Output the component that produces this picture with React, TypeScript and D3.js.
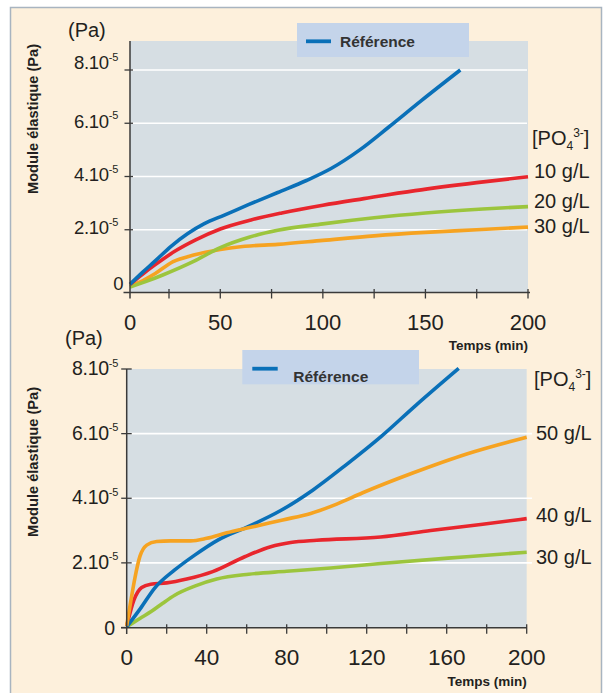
import React from 'react';
import * as d3 from 'd3';

const FONT = '"Liberation Sans", Arial, Helvetica, sans-serif';

// ---------- shared ----------
const yTickValues = [0, 2, 4, 6, 8];
const yTickMantissa = ['0', '2.10', '4.10', '6.10', '8.10'];
const yTickExponent = '-5';
const legendLabel = 'Référence';
const yAxisTitle = 'Module élastique (Pa)';
const unitLabel = '(Pa)';
const xAxisTitle = 'Temps (min)';

// ---------- top chart ----------
const topXTicks = [0, 50, 100, 150, 200];
const topXMinor = [25, 50, 75, 100, 125, 150, 175, 200];
const topRef: [number, number][] = [
  [0, -0.05], [8, 0.4], [16, 0.82], [26, 1.38], [34, 1.85], [42, 2.22], [52, 2.55], [64, 2.95],
  [78, 3.4], [92, 3.85], [104, 4.3], [118, 5.0], [132, 5.85], [148, 6.85], [167, 8.0],
];
const top10: [number, number][] = [
  [0, -0.05], [8, 0.33], [16, 0.68], [28, 1.2], [38, 1.62], [50, 2.03], [65, 2.37], [80, 2.63],
  [100, 2.92], [120, 3.17], [145, 3.47], [175, 3.77], [200, 3.99],
];
const top20: [number, number][] = [
  [0, -0.15], [10, 0.05], [21, 0.3], [37, 0.81], [50, 1.33], [64, 1.72], [78, 1.98], [100, 2.22],
  [125, 2.45], [150, 2.63], [178, 2.78], [200, 2.87],
];
const top30: [number, number][] = [
  [0, -0.12], [8, 0.08], [16, 0.35], [27, 0.8], [37, 1.05], [50, 1.26], [62, 1.38], [78, 1.45],
  [100, 1.6], [125, 1.77], [150, 1.9], [175, 2.0], [200, 2.1],
];
const topConc = ['10 g/L', '20 g/L', '30 g/L'];

// ---------- bottom chart ----------
const botXTicks = [0, 40, 80, 120, 160, 200];
const botXMinor = [20, 40, 60, 80, 100, 120, 140, 160, 180, 200];
const botRef: [number, number][] = [
  [0, 0.02], [7, 0.6], [14, 1.22], [24, 1.78], [34, 2.24], [46, 2.72], [61, 3.13], [77, 3.62],
  [93, 4.25], [110, 5.05], [127, 5.9], [145, 6.9], [166, 8.02],
];
const bot50: [number, number][] = [
  [0, 0.05], [2, 0.8], [4, 1.5], [6.6, 2.2], [10, 2.55], [15, 2.66], [22, 2.68], [32, 2.68],
  [40, 2.76], [50, 2.93], [62, 3.1], [78, 3.33], [92, 3.53], [105, 3.82], [118, 4.17],
  [143, 4.78], [170, 5.37], [200, 5.89],
];
const bot40: [number, number][] = [
  [0, 0.05], [3.6, 0.85], [7.5, 1.24], [12, 1.34], [20, 1.38], [30, 1.5], [43, 1.73], [59, 2.19],
  [72, 2.5], [82, 2.63], [95, 2.7], [127, 2.8], [152, 3.0], [177, 3.19], [200, 3.37],
];
const bot30: [number, number][] = [
  [0, 0.02], [6.6, 0.28], [12.4, 0.5], [18, 0.75], [24, 1.0], [34, 1.28], [45, 1.5], [61, 1.65],
  [80, 1.74], [102, 1.84], [127, 1.98], [170, 2.19], [200, 2.33],
];
const botConc = ['50 g/L', '40 g/L', '30 g/L'];

const C_BLUE = '#0a70b8';
const C_RED = '#e8262d';
const C_GREEN = '#9cc53d';
const C_ORANGE = '#f6a321';
const TXT = '#231f20';
const AX = '#3a3a3a';

type Series = { data: [number, number][]; color: string };

interface PanelProps {
  x: d3.ScaleLinear<number, number>;
  y: d3.ScaleLinear<number, number>;
  plotTop: number;
  axisY: number;
  plotRight: number;
  gridRight: number;
  gridValues: number[];
  xTicks: number[];
  xMinor: number[];
  xLabelBaseline: number;
  yTickEnd: number;
  yLabelRight: number;
  yZeroRight: number;
  yZeroBaseline: number;
  yLabelOffset: (v: number) => number;
  tickFont: number;
  xTickFont: number;
  series: Series[];
  legend: { x: number; y: number; w: number; h: number; lx1: number; lx2: number; ly: number; tx: number; ty: number };
  unit: { x: number; y: number };
  titleBaseline: number;
  yTitle: { x: number; cy: number };
  conc: { labels: string[]; series: Series[]; offsets: number[]; x: number };
  poY: number;
  xAxisStart: number;
  xAxisEnd: number;
  yAxisBottom: number;
}

function Panel(p: PanelProps) {
  const line = d3
    .line<[number, number]>()
    .x((d) => p.x(d[0]))
    .y((d) => p.y(d[1]))
    .curve(d3.curveMonotoneX);
  const x0 = p.x(0);
  return (
    <g>
      <rect x={x0} y={p.plotTop} width={p.plotRight - x0} height={p.axisY - p.plotTop} fill="#d6dee3" />
      {p.gridValues.map((v) => (
        <line key={'g' + v} x1={x0} x2={p.gridRight} y1={p.y(v)} y2={p.y(v)} stroke="#ffffff" strokeWidth={1.6} />
      ))}
      <rect x={p.legend.x} y={p.legend.y} width={p.legend.w} height={p.legend.h} fill="#c4d4ea" />
      <line x1={p.legend.lx1} x2={p.legend.lx2} y1={p.legend.ly} y2={p.legend.ly} stroke={C_BLUE} strokeWidth={3.8} />
      <text x={p.legend.tx} y={p.legend.ty} fontFamily={FONT} fontWeight="bold" fontSize={15.5} fill="#333">
        {legendLabel}
      </text>
      {p.series.map((s, i) => (
        <path key={'s' + i} d={line(s.data) || ''} fill="none" stroke={s.color} strokeWidth={3.6} strokeLinejoin="round" strokeLinecap="butt" />
      ))}
      <line x1={p.xAxisStart} x2={p.xAxisEnd} y1={p.axisY} y2={p.axisY} stroke={AX} strokeWidth={1.5} />
      <line x1={x0} x2={x0} y1={p.plotTop} y2={p.yAxisBottom} stroke={AX} strokeWidth={1.5} />
      {p.xMinor.map((t) => (
        <line key={'xm' + t} x1={p.x(t)} x2={p.x(t)} y1={p.axisY - 3.5} y2={p.axisY + 6} stroke={AX} strokeWidth={1.3} />
      ))}
      {p.gridValues.map((v) => (
        <line key={'yt' + v} x1={x0 - 5.5} x2={x0 + p.yTickEnd} y1={p.y(v)} y2={p.y(v)} stroke={AX} strokeWidth={1.3} />
      ))}
      {p.xTicks.map((t) => (
        <text key={'xl' + t} x={p.x(t)} y={p.xLabelBaseline} textAnchor="middle" fontFamily={FONT} fontSize={p.xTickFont} fill={TXT}>
          {t}
        </text>
      ))}
      {yTickValues.map((v, i) =>
        v === 0 ? (
          <text key={'yl' + v} x={p.yZeroRight} y={p.yZeroBaseline} textAnchor="end" fontFamily={FONT} fontSize={p.tickFont} fill={TXT}>
            {yTickMantissa[i]}
          </text>
        ) : (
          <text key={'yl' + v} x={p.yLabelRight} y={p.y(v) + p.yLabelOffset(v)} textAnchor="end" fontFamily={FONT} fontSize={p.tickFont} fill={TXT} letterSpacing={-0.3}>
            {yTickMantissa[i]}
            <tspan fontSize={11} dy={-8.5}>{yTickExponent}</tspan>
          </text>
        )
      )}
      <text x={p.unit.x} y={p.unit.y} fontFamily={FONT} fontSize={20} fill={TXT}>
        {unitLabel}
      </text>
      <text x={p.plotRight} y={p.titleBaseline} textAnchor="end" fontFamily={FONT} fontWeight="bold" fontSize={13.5} fill={TXT}>
        {xAxisTitle}
      </text>
      <text
        transform={`translate(${p.yTitle.x},${p.yTitle.cy}) rotate(-90)`}
        textAnchor="middle"
        fontFamily={FONT}
        fontWeight="bold"
        fontSize={14.6}
        fill={TXT}
      >
        {yAxisTitle}
      </text>
      <text x={p.conc.x - 2} y={p.poY} fontFamily={FONT} fontSize={20} fill={TXT}>
        [PO
        <tspan fontSize={12} dy={5}>4</tspan>
        <tspan fontSize={12} dy={-13}>3-</tspan>
        <tspan dy={8}>]</tspan>
      </text>
      {p.conc.labels.map((lab, i) => {
        const d = p.conc.series[i].data;
        const last = d[d.length - 1];
        return (
          <text key={'c' + i} x={p.conc.x} y={p.y(last[1]) + p.conc.offsets[i]} fontFamily={FONT} fontSize={20} fill={TXT}>
            {lab}
          </text>
        );
      })}
    </g>
  );
}

export default function App() {
  const xTop = d3.scaleLinear().domain([0, 25, 200]).range([130, 169, 528]);
  const yTop = d3.scaleLinear().domain([0, 8]).range([283, 70]);
  const xBot = d3.scaleLinear().domain([0, 200]).range([126.7, 526.7]);
  const yBot = d3.scaleLinear().domain([0, 8]).range([627.5, 369]);

  const topSeries: Series[] = [
    { data: top30, color: C_ORANGE },
    { data: top20, color: C_GREEN },
    { data: top10, color: C_RED },
    { data: topRef, color: C_BLUE },
  ];
  const botSeries: Series[] = [
    { data: bot30, color: C_GREEN },
    { data: bot40, color: C_RED },
    { data: botRef, color: C_BLUE },
    { data: bot50, color: C_ORANGE },
  ];

  return (
    <svg width={606} height={693} style={{ position: 'absolute', left: 0, top: 0 }}>
      <rect x={0} y={0} width={606} height={693} fill="#ffffff" />
      <rect x={10.5} y={7.5} width={591} height={690} fill="#fdf0dc" stroke="#a8b4c0" strokeWidth={1.5} />
      <Panel
        x={xTop}
        y={yTop}
        plotTop={41}
        axisY={292.5}
        plotRight={528}
        gridRight={527}
        gridValues={[2, 4, 6, 8]}
        xTicks={topXTicks}
        xMinor={topXMinor}
        xLabelBaseline={329.5}
        yTickEnd={3}
        yLabelRight={118}
        yZeroRight={123.5}
        yZeroBaseline={290}
        yLabelOffset={(v) => (v === 8 ? -1 : 4.5)}
        tickFont={18.5}
        xTickFont={22}
        series={topSeries}
        legend={{ x: 297, y: 23, w: 172, h: 34, lx1: 306, lx2: 331, ly: 41.3, tx: 340, ty: 46.5 }}
        unit={{ x: 68, y: 37 }}
        titleBaseline={350}
        yTitle={{ x: 38, cy: 119 }}
        conc={{ labels: topConc, series: [{ data: top10, color: C_RED }, { data: top20, color: C_GREEN }, { data: top30, color: C_ORANGE }], offsets: [1.5, 1.5, 6], x: 534 }}
        poY={144.5}
        xAxisStart={123.5}
        xAxisEnd={530}
        yAxisBottom={298.5}
      />
      <Panel
        x={xBot}
        y={yBot}
        plotTop={369}
        axisY={627.7}
        plotRight={526.7}
        gridRight={532}
        gridValues={[2, 4, 6]}
        xTicks={botXTicks}
        xMinor={botXMinor}
        xLabelBaseline={665}
        yTickEnd={5}
        yLabelRight={118}
        yZeroRight={115}
        yZeroBaseline={635}
        yLabelOffset={() => 6}
        tickFont={19.5}
        xTickFont={22.5}
        series={botSeries}
        legend={{ x: 242.3, y: 350, w: 176.7, h: 34.3, lx1: 252.3, lx2: 277.7, ly: 368.7, tx: 293.3, ty: 381.7 }}
        unit={{ x: 65, y: 345 }}
        titleBaseline={686}
        yTitle={{ x: 38, cy: 462 }}
        conc={{ labels: botConc, series: [{ data: bot50, color: C_ORANGE }, { data: bot40, color: C_RED }, { data: bot30, color: C_GREEN }], offsets: [3, 3, 12], x: 536 }}
        poY={386}
        xAxisStart={121}
        xAxisEnd={527}
        yAxisBottom={634}
      />
      <line x1={121.2} x2={131.7} y1={yBot(8)} y2={yBot(8)} stroke={AX} strokeWidth={1.3} />
      <line x1={121.2} x2={126.7} y1={yBot(0)} y2={yBot(0)} stroke={AX} strokeWidth={1.3} />
    </svg>
  );
}
